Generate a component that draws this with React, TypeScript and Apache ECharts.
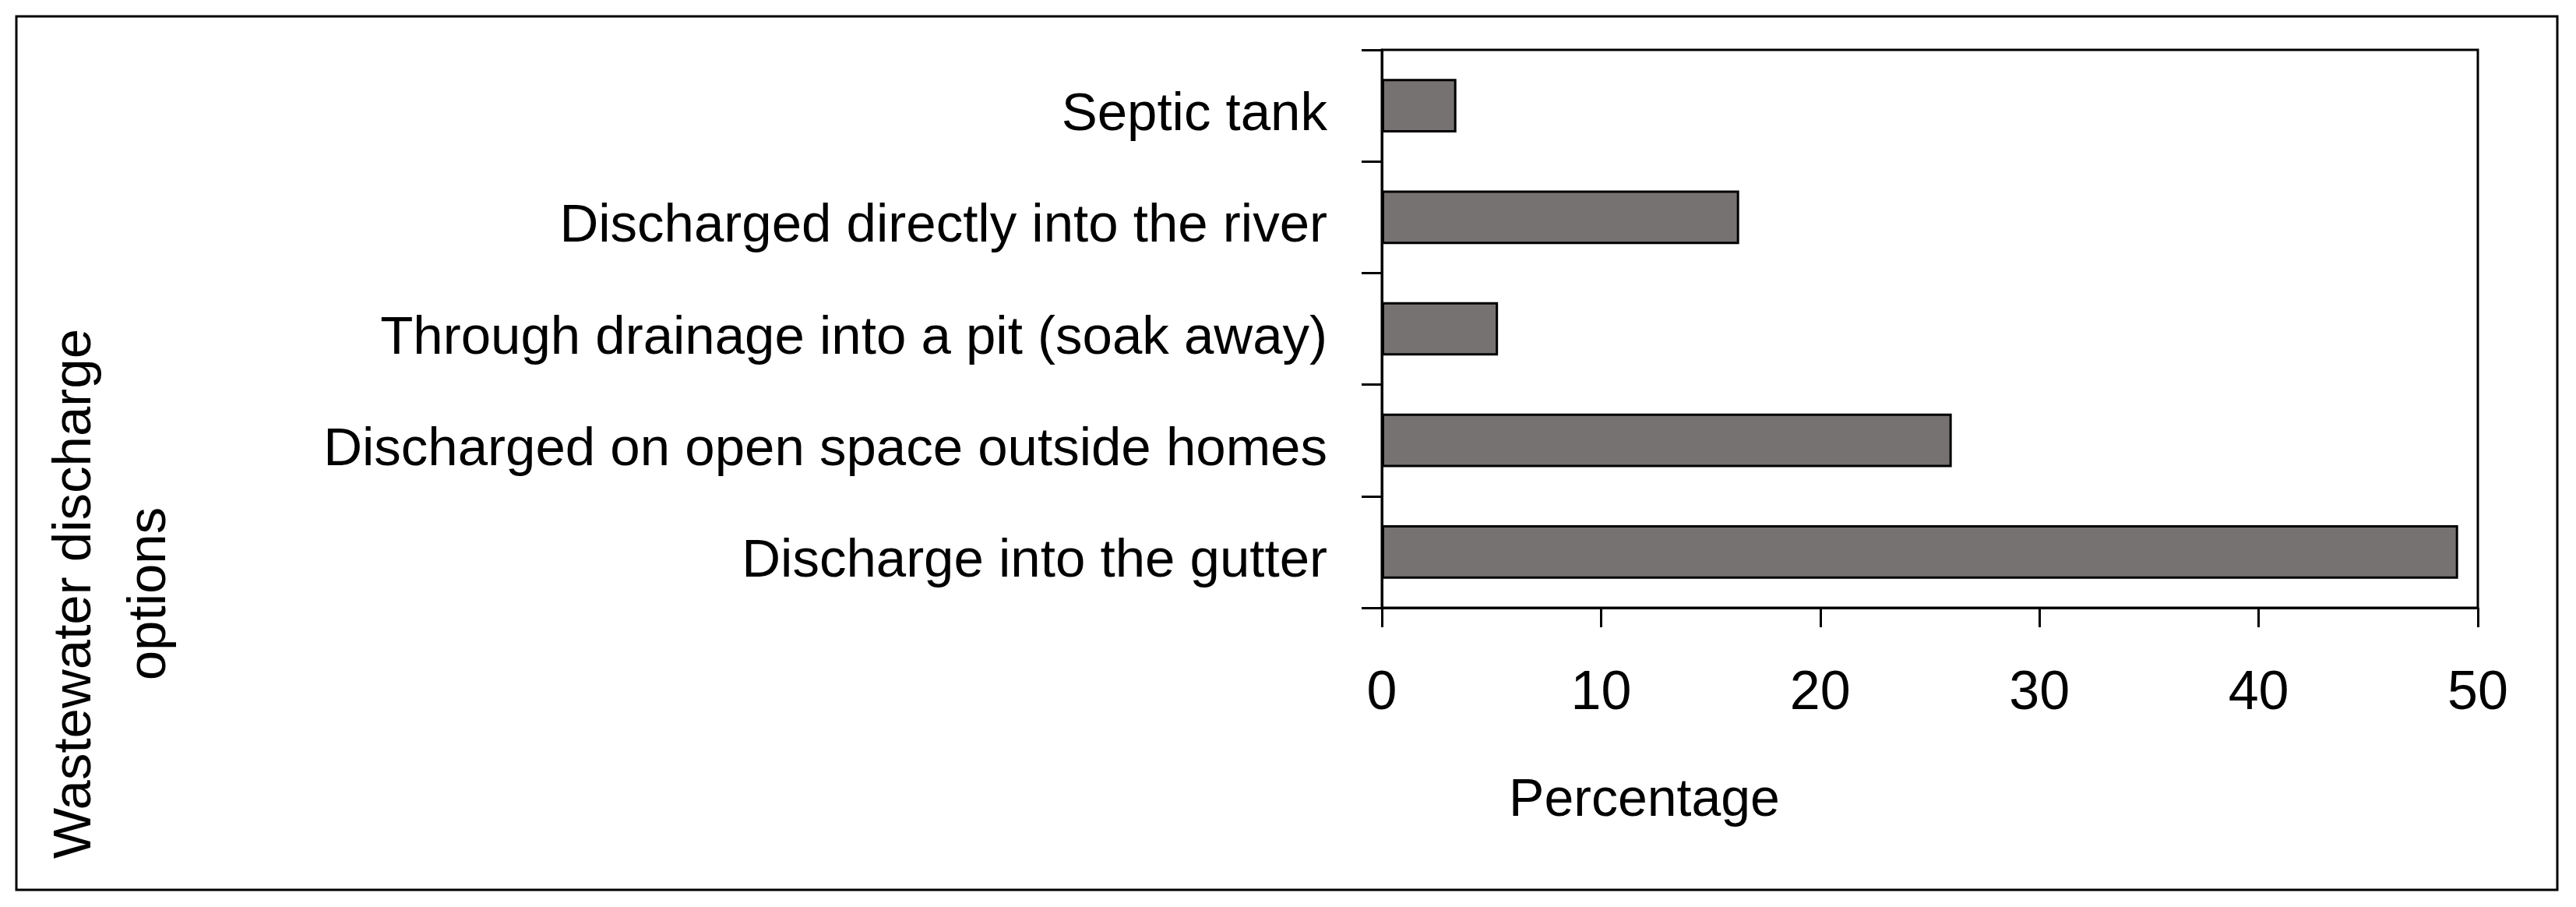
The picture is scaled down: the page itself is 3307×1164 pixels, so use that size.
import React, { useEffect, useRef } from "react";
import * as echarts from "echarts";

const categories = [
  "Septic tank",
  "Discharged directly into the river",
  "Through drainage into a pit (soak away)",
  "Discharged on open space outside homes",
  "Discharge into the gutter",
];
const percentages = [3.4, 16.3, 5.3, 26.0, 49.1];
const xMin = 0;
const xMax = 50;
const xInterval = 10;
const xAxisTitle = "Percentage";
const yAxisTitle = "Wastewater discharge\noptions";

const FONT = "'Liberation Sans', Arial, Helvetica, sans-serif";

export default function App() {
  const ref = useRef<HTMLDivElement>(null);
  useEffect(() => {
    if (!ref.current) return;
    const chart = echarts.init(ref.current, undefined, { renderer: "svg" });
    chart.setOption({
      animation: false,
      backgroundColor: "#ffffff",
      grid: {
        left: 1774,
        top: 64,
        right: 126,
        bottom: 384,
        containLabel: false,
        show: true,
        borderColor: "#000",
        borderWidth: 3,
        backgroundColor: "transparent",
      },
      xAxis: {
        type: "value",
        min: xMin,
        max: xMax,
        interval: xInterval,
        axisLine: { show: true, lineStyle: { color: "#000", width: 3 } },
        axisTick: { show: true, inside: false, length: 25, lineStyle: { color: "#000", width: 3 } },
        splitLine: { show: false },
        axisLabel: {
          color: "#000",
          fontFamily: FONT,
          fontSize: 70,
          margin: 71,
        },
        name: xAxisTitle,
        nameLocation: "middle",
        nameGap: 209,
        nameTextStyle: {
          color: "#000",
          fontFamily: FONT,
          fontSize: 68,
          padding: [0, 733, 0, 0],
        },
      },
      yAxis: {
        type: "category",
        data: categories,
        inverse: true,
        axisLine: { show: true, lineStyle: { color: "#000", width: 3 } },
        axisTick: { show: true, inside: false, length: 26, lineStyle: { color: "#000", width: 3 } },
        splitLine: { show: false },
        axisLabel: {
          color: "#000",
          fontFamily: FONT,
          fontSize: 69,
          margin: 70,
          verticalAlign: "top",
          lineHeight: 16,
        },
      },
      graphic: [
        {
          type: "rect",
          shape: { x: 21, y: 21, width: 3262, height: 1121 },
          style: { fill: "none", stroke: "#000", lineWidth: 3 },
          silent: true,
        },
        {
          type: "text",
          x: 140,
          y: 762,
          rotation: Math.PI / 2,
          style: {
            text: yAxisTitle,
            fill: "#000",
            font: `69px ${FONT}`,
            fontSize: 69,
            fontFamily: FONT,
            lineHeight: 96,
            textAlign: "center",
            textVerticalAlign: "middle",
            verticalAlign: "middle",
            align: "center",
          },
        },
      ],
      series: [
        {
          type: "bar",
          data: percentages,
          barWidth: "48%",
          itemStyle: {
            color: "#767271",
            borderColor: "#000",
            borderWidth: 3,
          },
        },
      ],
    });
    return () => chart.dispose();
  }, []);
  return (
    <div
      ref={ref}
      style={{ position: "fixed", left: 0, top: 0, width: 3307, height: 1164, background: "#fff" }}
    />
  );
}
